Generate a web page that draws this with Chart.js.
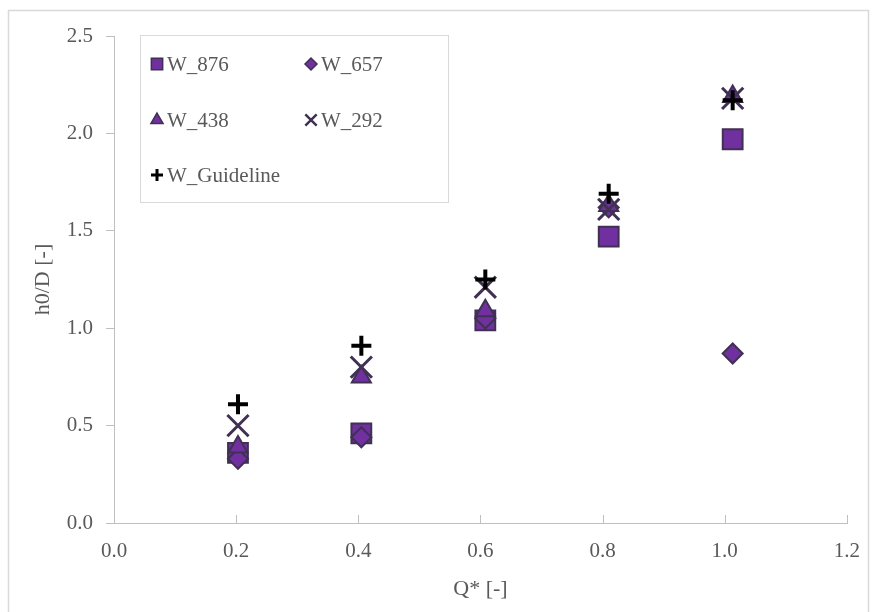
<!DOCTYPE html>
<html>
<head>
<meta charset="utf-8">
<script src="https://cdn.jsdelivr.net/npm/chart.js@4.4.1/dist/chart.umd.min.js"></script>
<style>
  html, body { margin: 0; padding: 0; background: #ffffff; }
  #wrap { position: relative; width: 876px; height: 612px; }
</style>
</head>
<body>
<div id="wrap"><canvas id="c" width="876" height="612"></canvas></div>
<script>
// Dimensionless discharge Q* and measured relative head h0/D per weir width
const qStar     = [0.203, 0.405, 0.608, 0.810, 1.013];
const w876      = [0.36, 0.46, 1.04, 1.47, 1.97];
const w657      = [0.33, 0.44, 1.05, 1.62, 0.87];
const w438      = [0.39, 0.75, 1.09, 1.63, 2.19];
const w292      = [0.50, 0.80, 1.21, 1.61, 2.18];
const wGuide    = [0.61, 0.91, 1.25, 1.69, 2.17];
const seriesNames = ['W_876', 'W_657', 'W_438', 'W_292', 'W_Guideline'];
const xTicks = [0, 0.2, 0.4, 0.6, 0.8, 1.0, 1.2];
const yTicks = [0, 0.5, 1.0, 1.5, 2.0, 2.5];

const FILL = '#7030A0';
const EDGE = '#403152';
const TEXT = '#595959';
const AXIS = '#BFBFBF';
const SERIF = '"Liberation Serif", "Times New Roman", serif';

function pts(ys) { return ys.map((y, i) => ({ x: qStar[i], y: y })); }

const datasets = [
  { label: seriesNames[0], data: pts(w876), pointStyle: 'rect', pointRadius: 14,
    backgroundColor: FILL, borderColor: EDGE, borderWidth: 2, order: 4 },
  { label: seriesNames[1], data: pts(w657), pointStyle: 'rectRot', pointRadius: 10,
    backgroundColor: FILL, borderColor: EDGE, borderWidth: 2, order: 3 },
  { label: seriesNames[2], data: pts(w438), pointStyle: 'triangle', pointRadius: 11,
    backgroundColor: FILL, borderColor: EDGE, borderWidth: 2, order: 2 },
  { label: seriesNames[3], data: pts(w292), pointStyle: 'crossRot', pointRadius: 15,
    backgroundColor: FILL, borderColor: EDGE, borderWidth: 3, order: 1 },
  { label: seriesNames[4], data: pts(wGuide), pointStyle: 'cross', pointRadius: 10,
    backgroundColor: '#000000', borderColor: '#000000', borderWidth: 4, order: 0 }
];
datasets.forEach(d => { d.pointHoverRadius = d.pointRadius; d.showLine = false; });

// Frame around the whole figure
const framePlugin = {
  id: 'frame',
  beforeDraw(chart) {
    const ctx = chart.ctx;
    ctx.save();
    ctx.fillStyle = '#ffffff';
    ctx.fillRect(0, 0, chart.width, chart.height);
    ctx.strokeStyle = '#D9D9D9';
    ctx.lineWidth = 1.5;
    ctx.strokeRect(8.5, 10.5, 860, 620);
    ctx.restore();
  }
};

// Tick marks on the x axis crossing upward into the plot
const xTickPlugin = {
  id: 'xTickMarks',
  afterDraw(chart) {
    const ctx = chart.ctx, xs = chart.scales.x, y0 = chart.chartArea.bottom;
    ctx.save();
    ctx.strokeStyle = AXIS;
    ctx.lineWidth = 1;
    xTicks.forEach(v => {
      const px = Math.round(xs.getPixelForValue(v)) + 0.5;
      ctx.beginPath();
      ctx.moveTo(px, y0 - 8);
      ctx.lineTo(px, y0 + 1);
      ctx.stroke();
    });
    ctx.restore();
  }
};

// Legend box in the upper-left of the plot, two columns
const legendPlugin = {
  id: 'boxLegend',
  afterDraw(chart) {
    const ctx = chart.ctx;
    const box = { x: 140.5, y: 35.5, w: 308, h: 167 };
    ctx.save();
    ctx.fillStyle = '#ffffff';
    ctx.fillRect(box.x, box.y, box.w, box.h);
    ctx.strokeStyle = '#D9D9D9';
    ctx.lineWidth = 1;
    ctx.strokeRect(box.x, box.y, box.w, box.h);
    const slots = [
      { mx: 157, y: 64 }, { mx: 311, y: 64 },
      { mx: 157, y: 120 }, { mx: 311, y: 120 },
      { mx: 157, y: 175 }
    ];
    const sizes = [8, 6, 7, 8, 6];
    chart.data.datasets.forEach((ds, i) => {
      const s = slots[i];
      ctx.fillStyle = ds.backgroundColor;
      ctx.strokeStyle = ds.borderColor;
      ctx.lineWidth = ds.pointStyle === 'cross' ? 3 : (ds.pointStyle === 'crossRot' ? 2.5 : 1.5);
      Chart.helpers.drawPoint(ctx, { pointStyle: ds.pointStyle, radius: sizes[i], rotation: 0, borderWidth: ctx.lineWidth }, s.mx, s.y);
      ctx.fillStyle = TEXT;
      ctx.font = '21px ' + SERIF;
      ctx.textBaseline = 'middle';
      ctx.textAlign = 'left';
      ctx.fillText(ds.label, s.mx + 10, s.y + 1);
    });
    ctx.restore();
  }
};

new Chart(document.getElementById('c'), {
  type: 'scatter',
  data: { datasets: datasets },
  plugins: [framePlugin, xTickPlugin, legendPlugin],
  options: {
    responsive: false,
    animation: false,
    events: [],
    layout: { padding: { left: 30, right: 28, top: 36, bottom: 0 } },
    plugins: { legend: { display: false }, tooltip: { enabled: false } },
    scales: {
      x: {
        type: 'linear', min: 0, max: 1.2,
        afterBuildTicks(scale) { scale.ticks = xTicks.map(v => ({ value: v })); },
        afterFit(scale) { scale.height = 612 - 523; },
        border: { display: true, color: AXIS, width: 1 },
        grid: { display: true, drawOnChartArea: false, drawTicks: false, color: AXIS },
        ticks: { padding: 16, color: TEXT, font: { family: SERIF, size: 21 },
                 callback: v => Number(v).toFixed(1) },
        title: { display: true, text: 'Q* [-]', color: TEXT, font: { family: SERIF, size: 22 },
                 padding: { top: 0, bottom: 10 } }
      },
      y: {
        type: 'linear', min: 0, max: 2.5,
        afterBuildTicks(scale) { scale.ticks = yTicks.map(v => ({ value: v })); },
        afterFit(scale) { scale.width = 114 - 30; },
        border: { display: true, color: AXIS, width: 1 },
        grid: { display: true, drawOnChartArea: false, drawTicks: true, tickLength: 8, color: AXIS },
        ticks: { padding: 13, color: TEXT, font: { family: SERIF, size: 21 },
                 callback: v => Number(v).toFixed(1) },
        title: { display: true, text: 'h0/D [-]', color: TEXT, font: { family: SERIF, size: 22 },
                 padding: { top: 0, bottom: 0 } }
      }
    }
  }
});
</script>
</body>
</html>
